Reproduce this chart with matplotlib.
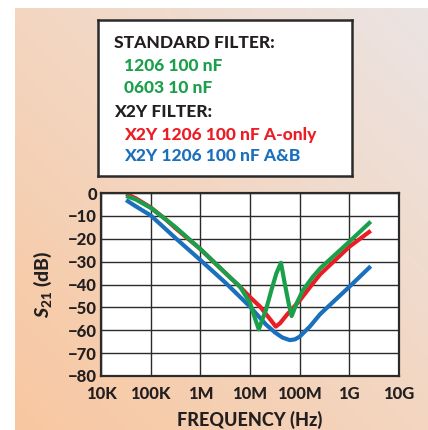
import numpy as np
import matplotlib
matplotlib.use("Agg")
import matplotlib.pyplot as plt
from matplotlib.colors import LinearSegmentedColormap

# ---------------- data ----------------
blue_f = [3.2e4, 5e4, 1e5, 3.2e5, 1e6, 3.2e6, 1e7, 2.1e7, 3.2e7, 4.5e7, 6.3e7, 8e7, 1e8, 1.6e8, 2.6e8, 1e9, 2.7e9]
blue_db = [-3.1, -5.8, -9.8, -19.8, -29.3, -39.2, -49.7, -57.5, -61.0, -63.2, -64.3, -64.0, -62.8, -58.4, -52.9, -41.0, -32.0]

red_f = [3.2e4, 5e4, 1e5, 2e5, 3.2e5, 1e6, 3.2e6, 6.3e6, 1e7, 1.6e7, 2.5e7, 3.3e7, 4e7, 5.5e7, 1e8, 1.85e8, 2.6e8, 1e9, 2.7e9]
red_db = [-0.4, -2.3, -6.3, -11.5, -15.5, -24.5, -35.0, -41.0, -45.5, -49.7, -55.0, -58.4, -57.0, -53.3, -47.0, -39.5, -35.5, -23.5, -16.5]

green_f = [3.2e4, 5e4, 1e5, 2e5, 3.2e5, 1e6, 3.2e6, 6.3e6, 1e7, 1.26e7, 1.5e7, 2.1e7, 2.7e7, 3.4e7, 4.2e7, 5e7, 6.2e7, 6.9e7, 8.7e7, 1.17e8, 1.85e8, 2.6e8, 1e9, 2.7e9]
green_db = [-1.3, -2.8, -6.5, -11.5, -15.0, -24.5, -35.0, -41.0, -48.0, -54.8, -59.6, -51.0, -42.4, -35.1, -30.5, -39.5, -49.7, -53.8, -48.2, -42.4, -36.6, -32.9, -21.3, -12.5]

x_ticks = [1e4, 1e5, 1e6, 1e7, 1e8, 1e9, 1e10]
x_labels = ["10K", "100K", "1M", "10M", "100M", "1G", "10G"]
y_ticks = [0, -10, -20, -30, -40, -50, -60, -70, -80]

legend_lines = [
    ("STANDARD FILTER:", "#231f20", 0),
    ("1206 100 nF", "#1a9f4b", 1),
    ("0603 10 nF", "#1a9f4b", 1),
    ("X2Y FILTER:", "#231f20", 0),
    ("X2Y 1206 100 nF A-only", "#ec1c24", 1),
    ("X2Y 1206 100 nF A&B", "#1b70bd", 1),
]

# ---------------- style ----------------
FONT = ["Lato", "DejaVu Sans"]
WEIGHT = 900
plt.rcParams["font.family"] = FONT
plt.rcParams["mathtext.fontset"] = "custom"
plt.rcParams["mathtext.it"] = "Lato:italic:black"
plt.rcParams["mathtext.rm"] = "Lato:black"
plt.rcParams["mathtext.bf"] = "Lato:black"

W, H = 428, 430
fig = plt.figure(figsize=(W / 100, H / 100), dpi=100)
fig.patch.set_facecolor("white")

# background gradient panel
bg = fig.add_axes([15 / W, 0, (W - 15) / W, (H - 8) / H], zorder=0)
ny, nx = 200, 200
yy, xx = np.mgrid[0:1:ny * 1j, 0:1:nx * 1j]
t = (xx + yy) / 2.0
cmap = LinearSegmentedColormap.from_list("bg", ["#f8c7a0", "#f3d6c1", "#ebe4e3"])
bg.imshow(t, cmap=cmap, origin="lower", aspect="auto", extent=[0, 1, 0, 1], vmin=0, vmax=1)
bg.set_axis_off()

# main axes
ax = fig.add_axes([101 / W, 54 / H, 298 / W, 183 / H], zorder=2)
ax.set_facecolor("white")
ax.set_xscale("log")
ax.set_xlim(1e4, 1e10)
ax.set_ylim(-80, 0)

lw = 3.0
ax.plot(blue_f, blue_db, color="#1b70bd", lw=lw, solid_joinstyle="round", solid_capstyle="butt", zorder=3)
ax.plot(red_f, red_db, color="#ec1c24", lw=lw, solid_joinstyle="round", solid_capstyle="butt", zorder=4)
ax.plot(green_f, green_db, color="#1a9f4b", lw=lw, solid_joinstyle="round", solid_capstyle="butt", zorder=5)

ax.set_xticks(x_ticks)
ax.set_xticklabels(x_labels)
ax.xaxis.set_minor_locator(matplotlib.ticker.NullLocator())
ax.set_yticks(y_ticks)
ax.set_yticklabels([str(v) if v == 0 else "\u2212" + str(-v) for v in y_ticks])
ax.grid(True, color="#2b2b2b", lw=1.0)
ax.set_axisbelow(True)
for s in ax.spines.values():
    s.set_linewidth(1.6)
    s.set_color("#2b2b2b")
    s.set_zorder(6)
ax.tick_params(axis="both", length=0, labelsize=12, colors="#231f20")
ax.tick_params(axis="x", pad=7)
ax.tick_params(axis="y", pad=3)
for lab in ax.get_xticklabels() + ax.get_yticklabels():
    lab.set_fontweight(WEIGHT)

fig.text(250 / W, 1 - 420 / H, "FREQUENCY (Hz)", ha="center", va="center",
         fontsize=13, fontweight=WEIGHT, color="#231f20", zorder=3)
fig.text(43 / W, 1 - 284 / H, r"$S_{21}$ (dB)", rotation=90, ha="center", va="center",
         fontsize=14, fontweight=WEIGHT, color="#231f20", zorder=3)

# legend box
lg = fig.add_axes([98 / W, 1 - 176 / H, 254 / W, 156 / H], zorder=3)
lg.set_xticks([]); lg.set_yticks([])
lg.set_facecolor("white")
for s in lg.spines.values():
    s.set_linewidth(1.8)
    s.set_color("#2b2b2b")
ys = [43, 66, 88, 112, 135, 156]
for (txt, col, ind), ypx in zip(legend_lines, ys):
    xpx = 114 if ind == 0 else 124
    fig.text(xpx / W, 1 - ypx / H, txt, ha="left", va="center", fontsize=12.5,
             fontweight=WEIGHT, color=col, zorder=4)

fig.savefig("out.png", dpi=100)
